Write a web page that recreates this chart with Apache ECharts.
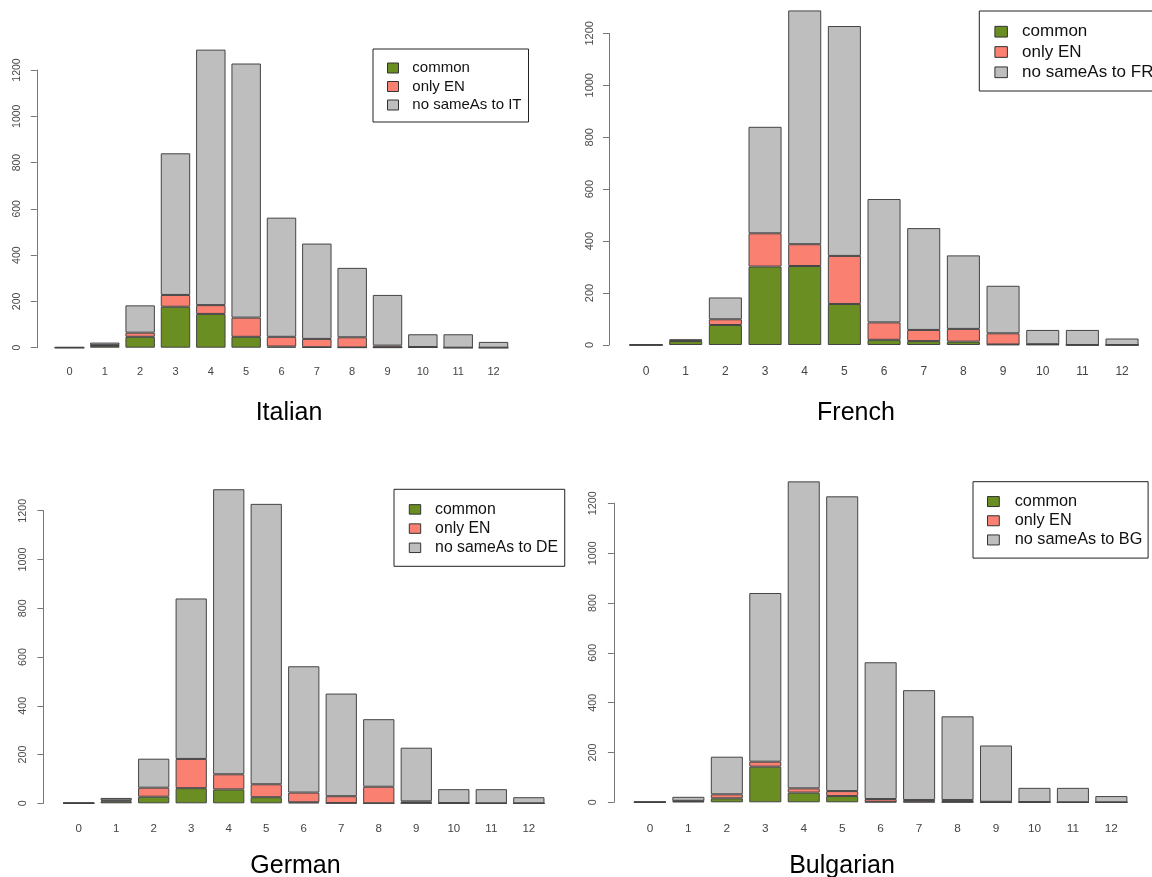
<!DOCTYPE html>
<html>
<head>
<meta charset="utf-8">
<script src="https://cdn.jsdelivr.net/npm/echarts@6/dist/echarts.min.js"></script>
<style>
html,body{margin:0;padding:0;background:#fff;}
#c{width:1152px;height:877px;}
</style>
</head>
<body>
<div id="c"></div>
<script>
// ---- data ----
var categories = ['0','1','2','3','4','5','6','7','8','9','10','11','12'];
var yTicks = [0, 200, 400, 600, 800, 1000, 1200];
var seriesNames = ['common', 'only EN'];

var itCommon = [0, 8, 47, 177, 146, 47, 5, 2, 1, 1, 2, 0, 0];
var itOnlyEN = [0, 3, 18, 51, 38, 83, 42, 36, 44, 8, 1, 0, 0];
var itNoSame = [3, 11, 118, 612, 1104, 1098, 515, 412, 300, 219, 55, 58, 25];

var frCommon = [0, 15, 77, 302, 304, 158, 20, 15, 13, 2, 2, 0, 0];
var frOnlyEN = [0, 2, 22, 128, 84, 185, 67, 43, 49, 43, 1, 0, 0];
var frNoSame = [3, 5, 84, 410, 900, 885, 475, 392, 283, 183, 55, 58, 25];

var deCommon = [0, 8, 27, 62, 57, 25, 4, 1, 0, 1, 1, 0, 0];
var deOnlyEN = [0, 4, 37, 120, 62, 53, 40, 28, 68, 7, 0, 0, 0];
var deNoSame = [3, 10, 119, 658, 1169, 1150, 518, 421, 277, 220, 57, 58, 25];

var bgCommon = [0, 4, 16, 143, 39, 25, 2, 2, 1, 0, 1, 0, 0];
var bgOnlyEN = [0, 2, 16, 20, 17, 20, 11, 7, 8, 2, 0, 0, 0];
var bgNoSame = [3, 16, 151, 677, 1232, 1183, 549, 441, 336, 226, 57, 58, 25];

var titles = ['Italian', 'French', 'German', 'Bulgarian'];
var thirdNames = ['no sameAs to IT', 'no sameAs to FR', 'no sameAs to DE', 'no sameAs to BG'];

// ---- layout / style ----
var colors = ['#6B8E23', '#FA8072', '#BEBEBE'];
var FONT = 'Liberation Sans, Arial, sans-serif';

var panels = [
  {data: [itCommon, itOnlyEN, itNoSame],
   grid: {left: 51.8, top: 70, width: 459.4, height: 277.7}, offset: 15, yFont: 10.5, yMargin: 14, xFont: 11, xMargin: 19,
   legend: {left: 373, top: 49, font: 15, gap: 3.5, keyW: 11, keyH: 10, textPad: 8.8, pad: [11.5, 7, 9.5, 14]},
   title: {x: 284, y: 396}},
  {data: [frCommon, frOnlyEN, frNoSame],
   grid: {left: 626.2, top: 33.3, width: 515.7, height: 311.7}, offset: 17.2, yFont: 11, yMargin: 14, xFont: 12, xMargin: 21,
   legend: {left: 979.3, top: 11, font: 17, gap: 3.3, keyW: 12.5, keyH: 10.7, textPad: 9.7, pad: [12.2, 8, 10.2, 15.1]},
   title: {x: 851, y: 396}},
  {data: [deCommon, deOnlyEN, deNoSame],
   grid: {left: 59.9, top: 510.7, width: 487.7, height: 292.6}, offset: 16.5, yFont: 10.8, yMargin: 15, xFont: 11.5, xMargin: 20,
   legend: {left: 394, top: 489.3, font: 15.8, gap: 3.2, keyW: 11.4, keyH: 9.5, textPad: 9.4, pad: [12.1, 6.7, 10.5, 14.8]},
   title: {x: 290.5, y: 849}},
  {data: [bgCommon, bgOnlyEN, bgNoSame],
   grid: {left: 630.7, top: 503.3, width: 499.9, height: 299}, offset: 16.8, yFont: 10.8, yMargin: 15, xFont: 11.8, xMargin: 20.5,
   legend: {left: 973, top: 481.7, font: 16.3, gap: 3.2, keyW: 11.8, keyH: 10, textPad: 10.4, pad: [11.85, 5.8, 10.15, 14]},
   title: {x: 837, y: 849}}
];

var option = {
  backgroundColor: '#ffffff',
  animation: false,
  textStyle: {fontFamily: FONT},
  title: [], grid: [], xAxis: [], yAxis: [], legend: [], series: []
};

panels.forEach(function (p, i) {
  option.grid.push(p.grid);
  option.xAxis.push({
    type: 'category', gridIndex: i, data: categories,
    axisLine: {show: false}, axisTick: {show: false},
    axisLabel: {color: '#444', fontSize: p.xFont, margin: p.xMargin, fontFamily: FONT, interval: 0}
  });
  option.yAxis.push({
    type: 'value', gridIndex: i, min: yTicks[0], max: yTicks[yTicks.length - 1], interval: yTicks[1] - yTicks[0],
    offset: p.offset,
    axisLine: {show: true, lineStyle: {color: '#777', width: 1}},
    axisTick: {show: true, length: 6, lineStyle: {color: '#777'}},
    splitLine: {show: false},
    axisLabel: {rotate: 90, color: '#4a4a4a', fontSize: p.yFont, margin: p.yMargin, fontFamily: FONT,
                formatter: function (v) { return String(v); }}
  });
  var names = [seriesNames[0], seriesNames[1], thirdNames[i]];
  for (var k = 0; k < 3; k++) {
    option.series.push({
      type: 'bar', name: names[k], xAxisIndex: i, yAxisIndex: i, stack: 'p' + i,
      data: p.data[k], barWidth: '83.3%', clip: false,
      itemStyle: {color: colors[k], borderColor: '#444', borderWidth: 1}
    });
  }
  var L = p.legend;
  option.legend.push({
    orient: 'vertical', left: L.left, top: L.top,
    data: names,
    icon: 'rect',
    itemWidth: L.keyW, itemHeight: L.keyH, itemGap: L.gap,
    padding: L.pad, borderColor: '#222', borderWidth: 1, borderRadius: 0,
    backgroundColor: '#fff',
    selectedMode: false,
    textStyle: {fontSize: L.font, color: '#111', fontFamily: FONT, padding: [0, 0, 0, L.textPad]},
    itemStyle: {borderColor: '#333', borderWidth: 1}
  });
  option.title.push({
    text: titles[i], left: p.title.x, top: p.title.y, textAlign: 'center',
    textStyle: {fontSize: 25, fontWeight: 'normal', color: '#000', fontFamily: FONT}
  });
});

var chart = echarts.init(document.getElementById('c'), null, {renderer: 'canvas'});
chart.setOption(option);
</script>
</body>
</html>
